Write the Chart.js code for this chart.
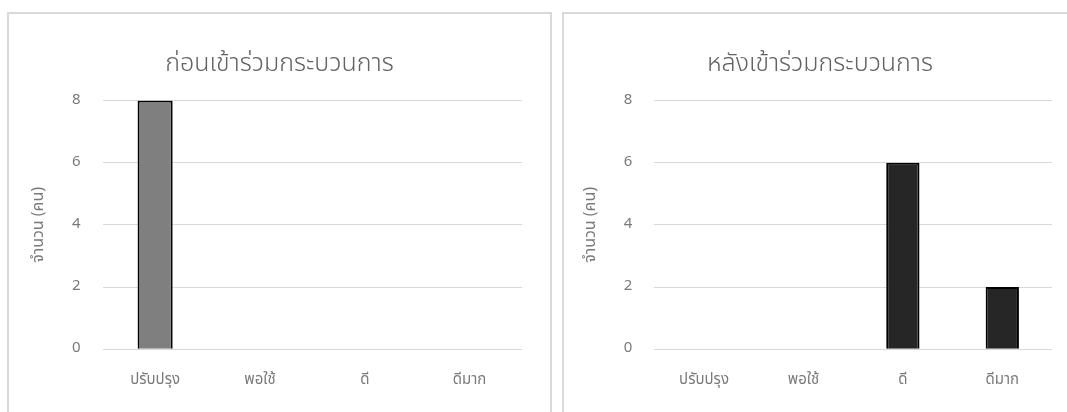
<!DOCTYPE html>
<html lang="th">
<head>
<meta charset="utf-8">
<title>ผลการประเมิน</title>
<script src="https://cdn.jsdelivr.net/npm/chart.js@4.4.1/dist/chart.umd.min.js"></script>
<style>
  html, body { margin: 0; padding: 0; background: #fff; overflow: hidden; }
  body { width: 1067px; height: 412px; position: relative; }
  .box {
    position: absolute; top: 12px; height: 420px;
    border: 2px solid #d9d9d9; box-sizing: border-box;
  }
  .box h2 {
    position: absolute; left: 0; right: 0; top: 34px; margin: 0;
    text-align: center; font-weight: 300; font-size: 25px; line-height: 30px;
    color: #626262; font-family: "Noto Sans Thai", "Noto Sans", sans-serif;
  }
  .box canvas { position: absolute; left: 0; top: 0; }
</style>
</head>
<body>
<div class="box" style="left:7px;width:545px">
  <canvas id="before" width="541" height="398"></canvas>
  <h2>ก่อนเข้าร่วมกระบวนการ</h2>
</div>
<div class="box" style="left:562px;width:516px">
  <canvas id="after" width="512" height="398"></canvas>
  <h2>หลังเข้าร่วมกระบวนการ</h2>
</div>
<script>
const categories = ["ปรับปรุง", "พอใช้", "ดี", "ดีมาก"];
const beforeCounts = [8, 0, 0, 0];
const afterCounts = [0, 0, 6, 2];
const yMax = 8;
const yStep = 2;
const yTitle = "จำนวน (คน)";

const fontFamily = '"Noto Sans Thai", "Noto Sans", sans-serif';
const textGray = "#7a7a7a";

function barChart(id, values, fill, g) {
  return new Chart(document.getElementById(id), {
    type: "bar",
    data: {
      labels: categories,
      datasets: [{
        data: values,
        backgroundColor: fill,
        borderColor: "#000",
        borderWidth: 2,
        categoryPercentage: 0.335,
        barPercentage: 1
      }]
    },
    options: {
      responsive: false,
      animation: false,
      layout: { padding: { top: g.top, right: g.right, left: 0, bottom: 0 } },
      plugins: { legend: { display: false }, tooltip: { enabled: false } },
      scales: {
        x: {
          grid: { display: false },
          border: { display: false },
          ticks: { color: textGray, padding: 15, font: { family: fontFamily, size: 15 } },
          afterFit: s => { s.height = g.xHeight; }
        },
        y: {
          min: 0,
          max: yMax,
          ticks: { stepSize: yStep, color: textGray, padding: 22, font: { family: fontFamily, size: 15 } },
          grid: { color: "#d9d9d9", lineWidth: 1, drawTicks: false },
          border: { display: false },
          title: {
            display: true,
            text: yTitle,
            color: textGray,
            padding: { top: g.titlePad, bottom: 0 },
            font: { family: fontFamily, size: 16 }
          },
          afterFit: s => { s.width = g.yWidth; }
        }
      }
    }
  });
}

barChart("before", beforeCounts, "#7f7f7f",
  { top: 86.5, right: 28, xHeight: 62.7, yWidth: 93.7, titlePad: 21 });
barChart("after", afterCounts, "#262626",
  { top: 86.5, right: 24, xHeight: 62.7, yWidth: 90.3, titlePad: 18 });
</script>
</body>
</html>
